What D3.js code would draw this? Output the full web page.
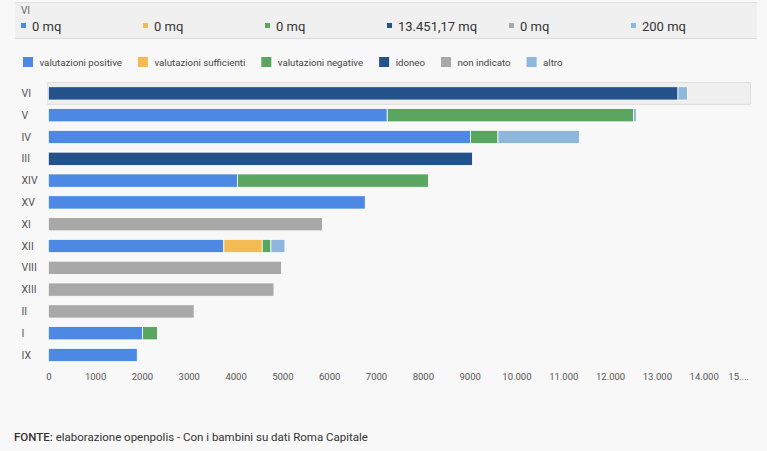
<!DOCTYPE html>
<html>
<head>
<meta charset="utf-8">
<script src="https://cdn.jsdelivr.net/npm/d3@7"></script>
<style>
  body { margin: 0; background: #f8f8f8; font-family: Roboto, "Helvetica Neue", Arial, sans-serif; }
  svg { display: block; }
  .tick line, .domain { display: none; }
</style>
</head>
<body>
<script>
// municipi, in the order shown
var municipi = ["VI", "V", "IV", "III", "XIV", "XV", "XI", "XII", "VIII", "XIII", "II", "I", "IX"];

var seriesNames = ["valutazioni positive", "valutazioni sufficienti", "valutazioni negative", "idoneo", "non indicato", "altro"];
var seriesColors = ["#4b89e3", "#f3bb52", "#59a660", "#24538b", "#a8a8a8", "#8db7dd"];

// mq per municipio, one array per series
var positive    = [0, 7240, 9020, 0, 4040, 6770, 0, 3750, 0, 0, 0, 2015, 1900];
var sufficient  = [0, 0, 0, 0, 0, 0, 0, 820, 0, 0, 0, 0, 0];
var negative    = [0, 5260, 585, 0, 4080, 0, 0, 185, 0, 0, 0, 315, 0];
var idoneo      = [13451.17, 0, 0, 9060, 0, 0, 0, 0, 0, 0, 0, 0, 0];
var nonIndicato = [0, 0, 0, 0, 0, 0, 5855, 0, 4980, 4820, 3115, 0, 0];
var altro       = [200, 60, 1740, 0, 0, 0, 0, 300, 0, 0, 0, 0, 0];

var tickValues = [0, 1000, 2000, 3000, 4000, 5000, 6000, 7000, 8000, 9000, 10000, 11000, 12000, 13000, 14000, 15000];
var tickLabels = ["0", "1000", "2000", "3000", "4000", "5000", "6000", "7000", "8000", "9000", "10.000", "11.000", "12.000", "13.000", "14.000", "15...."];

var selected = "VI";
var source = "elaborazione openpolis - Con i bambini su dati Roma Capitale";

var width = 767, height = 451;

var allSeries = [positive, sufficient, negative, idoneo, nonIndicato, altro];
var rows = municipi.map(function(m, i) {
  var d = {name: m};
  seriesNames.forEach(function(s, j) { d[s] = allSeries[j][i]; });
  return d;
});

var stack = d3.stack().keys(seriesNames)(rows);

var x = d3.scaleLinear()
    .domain([0, 15000])
    .range([48.3, 750.5]);

var y = d3.scaleBand()
    .domain(municipi)
    .range([82.5, 365.9])
    .paddingInner(0.39)
    .paddingOuter(0.195);

var color = d3.scaleOrdinal()
    .domain(seriesNames)
    .range(seriesColors);

var svg = d3.select("body").append("svg")
    .attr("width", width)
    .attr("height", height);

// info panel for the highlighted row
var panel = svg.append("g");
panel.append("rect")
    .attr("x", 15).attr("y", 2)
    .attr("width", 742).attr("height", 36)
    .style("fill", "#f0f0f0");
panel.append("line")
    .attr("x1", 15).attr("x2", 757).attr("y1", 2.5).attr("y2", 2.5)
    .style("stroke", "#e2e2e2");
panel.append("line")
    .attr("x1", 15).attr("x2", 757).attr("y1", 38.5).attr("y2", 38.5)
    .style("stroke", "#dadada");
panel.append("text")
    .attr("x", 21).attr("y", 14)
    .style("font-size", "10px")
    .style("fill", "#666")
    .text(selected);

var selIndex = municipi.indexOf(selected);
var fmtIt = d3.formatLocale({decimal: ",", thousands: ".", grouping: [3], currency: ["", "€"]});
function fmtMq(v) {
  if (v === 0) return "0 mq";
  return (v % 1 === 0 ? fmtIt.format(",d")(v) : fmtIt.format(",.2f")(v)) + " mq";
}

var items = panel.selectAll(".info")
    .data(seriesNames)
  .enter().append("g")
    .attr("class", "info")
    .attr("transform", function(d, i) { return "translate(" + (21 + i * 122) + ",0)"; });
items.append("rect")
    .attr("x", 0).attr("y", 23)
    .attr("width", 5).attr("height", 5)
    .style("fill", function(d) { return color(d); });
items.append("text")
    .attr("x", 11).attr("y", 31)
    .style("font-size", "13px")
    .style("fill", "#333")
    .text(function(d, i) { return fmtMq(allSeries[i][selIndex]); });

// legend
var legend = svg.append("g").attr("transform", "translate(23,57)");
var lx = 0;
seriesNames.forEach(function(s) {
  var g = legend.append("g").attr("transform", "translate(" + lx + ",0)");
  g.append("rect")
      .attr("width", 10).attr("height", 10)
      .style("fill", color(s));
  var t = g.append("text")
      .attr("x", 16.5).attr("y", 9)
      .style("font-size", "9.7px")
      .style("fill", "#444")
      .text(s);
  lx += 16.5 + t.node().getComputedTextLength() + 16;
});

// highlight band behind the selected row
svg.append("rect")
    .attr("x", x(0) - 0.5)
    .attr("y", y(selected) - y.step() * y.paddingInner() / 2)
    .attr("width", 751 - x(0))
    .attr("height", y.step())
    .style("fill", "#efefef")
    .style("stroke", "#dedede");

// bars
svg.append("g").selectAll("g")
    .data(stack)
  .enter().append("g")
    .style("fill", function(d) { return color(d.key); })
  .selectAll("rect")
    .data(function(d) { return d; })
  .enter().append("rect")
    .filter(function(d) { return d[1] - d[0] > 0; })
    .attr("x", function(d) { return x(d[0]); })
    .attr("y", function(d) { return y(d.data.name); })
    .attr("width", function(d) { return x(d[1]) - x(d[0]); })
    .attr("height", y.bandwidth())
    .style("stroke", "#fff")
    .style("stroke-width", 0.8);

// row labels
svg.append("g").selectAll("text")
    .data(municipi)
  .enter().append("text")
    .attr("x", 21.5)
    .attr("y", function(d) { return y(d) + y.bandwidth() / 2; })
    .attr("dy", ".35em")
    .style("font-size", "10.5px")
    .style("fill", "#555")
    .text(function(d) { return d; });

// x axis, labels only
var xAxis = d3.axisBottom(x)
    .tickValues(tickValues)
    .tickSize(0)
    .tickPadding(0)
    .tickFormat(function(d, i) { return tickLabels[i]; });

var ax = svg.append("g")
    .attr("transform", "translate(0,373)")
    .call(xAxis);
ax.selectAll("text")
    .style("font-family", "Roboto, Arial, sans-serif")
    .style("font-size", "9.5px")
    .style("fill", "#555");
ax.selectAll(".tick:last-of-type text")
    .attr("text-anchor", "end")
    .attr("dx", "-2");

// source note
var note = svg.append("text")
    .attr("x", 14).attr("y", 441)
    .style("font-size", "11.5px")
    .style("fill", "#333");
note.append("tspan").style("font-weight", 500).text("FONTE:");
note.append("tspan").text(" " + source);
</script>
</body>
</html>
